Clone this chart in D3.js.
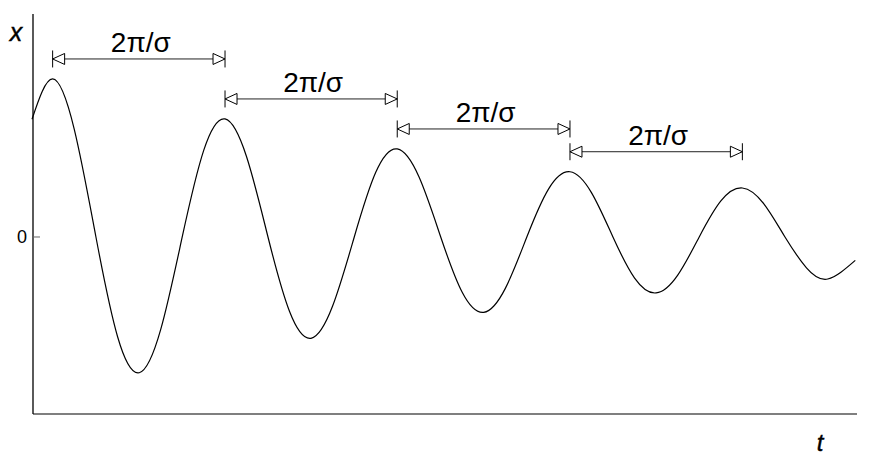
<!DOCTYPE html>
<html>
<head>
<meta charset="utf-8">
<script src="https://cdn.jsdelivr.net/npm/d3@7"></script>
<style>
  html, body { margin: 0; padding: 0; background: #fff; }
  svg { display: block; }
  text { font-family: "Liberation Sans", Arial, Helvetica, sans-serif; fill: #000; }
</style>
</head>
<body>
<svg id="chart" width="872" height="474"></svg>
<script>
// ---- data ----
// time in units where one period 2π/σ ≈ 1
const curveT = [0, 0.120, 0.246, 0.372, 0.498, 0.624, 0.749, 0.874, 0.999, 1.123, 1.248, 1.373, 1.498, 1.623, 1.749, 1.875,
                2.000, 2.125, 2.252, 2.378, 2.503, 2.628, 2.754, 2.879, 3.005, 3.130, 3.255, 3.380, 3.506, 3.631, 3.757, 3.882,
                4.008, 4.133, 4.257, 4.381, 4.506, 4.630, 4.790];
const curveX = [0.745, 1.0, 0.681, 0, -0.631, -0.859, -0.585, 0, 0.548, 0.747, 0.509, 0, -0.470, -0.641, -0.437, 0,
                0.409, 0.557, 0.379, 0, -0.350, -0.477, -0.325, 0, 0.303, 0.413, 0.281, 0, -0.260, -0.354, -0.241, 0,
                0.228, 0.310, 0.211, 0, -0.195, -0.266, -0.148];
// peaks used as arrow end points
const peakT = [0.120, 1.123, 2.125, 3.130, 4.133];
const peakX = [1.0, 0.747, 0.557, 0.413, 0.310];
const periodLabel = "2π/σ";
const yTicks = [0];
const yTickLabels = ["0"];
const xAxisLabel = "t";
const yAxisLabel = "x";

// ---- layout ----
const svg = d3.select("#chart");
const mLeft = 33, mRight = 857, mTop = 14, mBottom = 414;
const x = d3.scaleLinear().domain([0, 4.8]).range([mLeft - 1, mRight]);
const y = d3.scaleLinear().domain([-1.12, 1.411]).range([mBottom, mTop]);

// axes
svg.append("line")
  .attr("x1", mLeft).attr("x2", mLeft).attr("y1", mTop).attr("y2", mBottom)
  .attr("stroke", "#000").attr("stroke-width", 1.3);
svg.append("line")
  .attr("x1", mLeft).attr("x2", mRight).attr("y1", mBottom).attr("y2", mBottom)
  .attr("stroke", "#000").attr("stroke-width", 1.1);

// y ticks
yTicks.forEach((v, i) => {
  svg.append("line")
    .attr("x1", mLeft).attr("x2", mLeft + 7)
    .attr("y1", y(v)).attr("y2", y(v))
    .attr("stroke", "#666").attr("stroke-width", 1);
  svg.append("text")
    .attr("x", mLeft - 6).attr("y", y(v) + 6.5)
    .attr("text-anchor", "end")
    .attr("font-size", 18)
    .text(yTickLabels[i]);
});

// axis labels
svg.append("text")
  .attr("x", 16).attr("y", 41)
  .attr("text-anchor", "middle")
  .attr("font-size", 25).attr("font-style", "italic")
  .attr("stroke", "#000").attr("stroke-width", 0.4)
  .text(yAxisLabel);
svg.append("text")
  .attr("x", 820).attr("y", 451)
  .attr("text-anchor", "middle")
  .attr("font-size", 24).attr("font-style", "italic")
  .attr("stroke", "#000").attr("stroke-width", 0.4)
  .text(xAxisLabel);

// curve
const pts = curveT.map((t, i) => [t, curveX[i]]);
const line = d3.line().x(d => x(d[0])).y(d => y(d[1])).curve(d3.curveNatural);
svg.append("path")
  .attr("d", line(pts))
  .attr("fill", "none")
  .attr("stroke", "#000")
  .attr("stroke-width", 1.2);

// period arrows
const arrowOffset = 20, barHalf = 8.5, triLen = 12, triHalf = 5.5;
for (let k = 0; k < peakT.length - 1; k++) {
  const x1 = x(peakT[k]), x2 = x(peakT[k + 1]);
  const ay = y(peakX[k]) - arrowOffset;
  const g = svg.append("g").attr("stroke", "#000").attr("stroke-width", 1);
  g.append("line").attr("x1", x1).attr("x2", x2).attr("y1", ay).attr("y2", ay).attr("stroke", "#222");
  g.append("line").attr("x1", x1).attr("x2", x1).attr("y1", ay - barHalf).attr("y2", ay + barHalf);
  g.append("line").attr("x1", x2).attr("x2", x2).attr("y1", ay - barHalf).attr("y2", ay + barHalf);
  g.append("path")
    .attr("d", `M${x1},${ay} L${x1 + triLen},${ay - triHalf} L${x1 + triLen},${ay + triHalf} Z`)
    .attr("fill", "#fff");
  g.append("path")
    .attr("d", `M${x2},${ay} L${x2 - triLen},${ay - triHalf} L${x2 - triLen},${ay + triHalf} Z`)
    .attr("fill", "#fff");
  svg.append("text")
    .attr("x", (x1 + x2) / 2 + 2).attr("y", ay - 7)
    .attr("text-anchor", "middle")
    .attr("font-size", 28)
    .text(periodLabel);
}
</script>
</body>
</html>
